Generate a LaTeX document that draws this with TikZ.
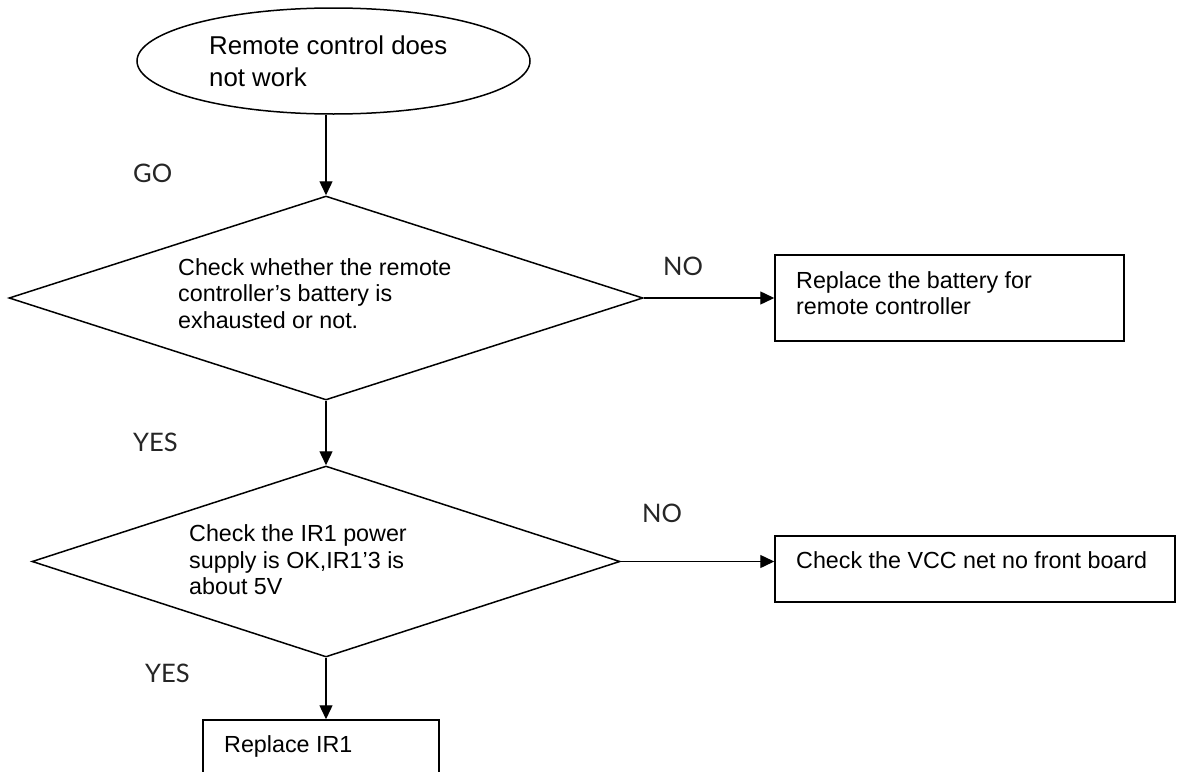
\documentclass[tikz,border=0pt]{standalone}
\usepackage{fontspec}
\setmainfont{Liberation Sans}
\newfontfamily\tagfont{Lato}
\usetikzlibrary{shapes.geometric,arrows.meta}
\begin{document}
\begin{tikzpicture}[x=1pt,y=-1pt,
  outline/.style={draw=black, line width=1.5pt},
  terminal/.style={outline, ellipse, inner sep=0pt, minimum width=393pt, minimum height=106pt},
  decision/.style={outline, diamond, inner sep=0pt},
  action/.style={outline, rectangle, inner sep=0pt},
  body/.style={anchor=west, inner sep=0pt, align=left, font=\fontsize{23.3}{26.5}\selectfont},
  tag/.style={anchor=west, inner sep=0pt, text=black!85, font=\tagfont\fontsize{25.5}{28}\selectfont},
  flow/.style={line width=1.4pt, -{Triangle[length=14pt,width=13pt]}}
]
\clip (0,0) rectangle (1177,771);
\fill[white] (0,0) rectangle (1177,771);

% start of the procedure
\node[terminal] (start) at (333.5,61) {};
\node[body, font=\fontsize{25.8}{32}\selectfont] (startText) at (209,61) {Remote control does\\not work};

% first check: battery
\node[decision, minimum width=634pt, minimum height=204pt] (q1) at (326,298) {};
\node[body] (q1Text) at (178,293.5) {Check whether the remote\\controller’s battery is\\exhausted or not.};

% second check: IR receiver supply
\node[decision, minimum width=588pt, minimum height=191pt] (q2) at (326,561.5) {};
\node[body] (q2Text) at (189,560) {Check the IR1 power\\supply is OK,IR1’3 is\\about 5V};

% actions
\node[action, minimum width=349pt, minimum height=86pt] (r1) at (949.5,298) {};
\node[body] (r1Text) at (796,293) {Replace the battery for\\remote controller};

\node[action, minimum width=400pt, minimum height=66pt] (r2) at (975,569) {};
\node[body] (r2Text) at (796,560) {Check the VCC net no front board};

\node[action, minimum width=236pt, minimum height=80pt] (r3) at (321,760) {};
\node[body, anchor=base west] (r3Text) at (224,752.3) {Replace IR1};

% branch labels
\node[tag] (goTag) at (133,173) {GO};
\node[tag] (yesTag1) at (133,442) {YES};
\node[tag] (noTag1) at (663,266) {NO};
\node[tag] (noTag2) at (642,513) {NO};
\node[tag] (yesTag2) at (145,673) {YES};

% connectors
\draw[flow] (start.south -| q1.north) -- (q1.north);
\draw[flow] (q1.south) -- (q2.north);
\draw[flow] (q1.east) -- (r1.west);
\draw[flow] (q2.east) -- (q2.east -| r2.west);
\draw[flow] (q2.south) -- (q2.south |- r3.north);
\end{tikzpicture}
\end{document}
